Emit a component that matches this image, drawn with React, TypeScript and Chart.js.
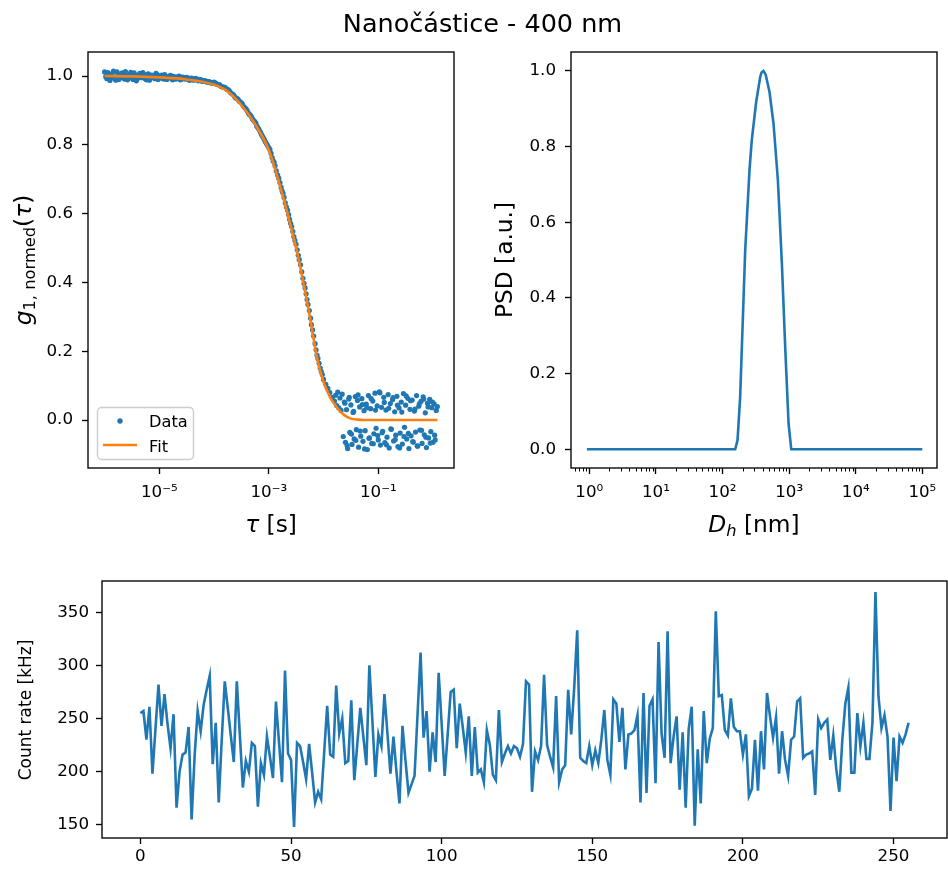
import React, { useEffect, useRef } from 'react';
import { Chart, registerables } from 'chart.js';
Chart.register(...registerables);

const W = 948;
const H = 870;
const FAM = '"DejaVu Sans", Verdana, sans-serif';
const BLUE = '#1f77b4';
const ORANGE = '#ff7f0e';
const TICK_PX = 16.7;
const LABEL_PX = 23.3;
const SUB_PX = 16.3;

Chart.defaults.font.family = FAM;
Chart.defaults.font.size = TICK_PX;
Chart.defaults.color = '#000';

// ---------- Title ----------
const TITLE = 'Nanočástice - 400 nm';

// ---------- DLS correlation data (tau in s, normalized g1) ----------
const dataTau = [
  1.0e-6, 1.1e-6, 1.2e-6, 1.3e-6, 1.45e-6, 1.6e-6, 1.75e-6, 1.9e-6, 2.1e-6, 2.3e-6, 2.5e-6, 2.75e-6, 3.0e-6, 3.3e-6, 3.6e-6, 4.0e-6, 4.4e-6, 4.8e-6, 5.2e-6, 5.8e-6, 6.3e-6, 7.0e-6, 7.6e-6, 8.3e-6, 9.1e-6,
  1.0e-5, 1.1e-5, 1.2e-5, 1.3e-5, 1.45e-5, 1.6e-5, 1.75e-5, 1.9e-5, 2.1e-5, 2.3e-5, 2.5e-5, 2.75e-5, 3.0e-5, 3.3e-5, 3.6e-5, 4.0e-5, 4.4e-5, 4.8e-5, 5.2e-5, 5.8e-5, 6.3e-5, 7.0e-5, 7.6e-5, 8.3e-5, 9.1e-5,
  1.0e-4, 1.1e-4, 1.2e-4, 1.3e-4, 1.45e-4, 1.6e-4, 1.75e-4, 1.9e-4, 2.1e-4, 2.3e-4, 2.5e-4, 2.75e-4, 3.0e-4, 3.3e-4, 3.6e-4, 4.0e-4, 4.4e-4, 4.8e-4, 5.2e-4, 5.8e-4, 6.3e-4, 7.0e-4, 7.6e-4, 8.3e-4, 9.1e-4,
  1.0e-3, 1.1e-3, 1.2e-3, 1.3e-3, 1.45e-3, 1.6e-3, 1.75e-3, 1.9e-3, 2.1e-3, 2.3e-3, 2.5e-3, 2.75e-3, 3.0e-3, 3.3e-3, 3.6e-3, 4.0e-3, 4.4e-3, 4.8e-3, 5.2e-3, 5.8e-3, 6.3e-3, 7.0e-3, 7.6e-3, 8.3e-3, 9.1e-3,
  1.0e-2, 1.1e-2, 1.2e-2, 1.3e-2, 1.45e-2,
  1.585e-2, 1.660e-2, 1.738e-2, 1.820e-2, 1.905e-2, 1.995e-2, 2.089e-2, 2.188e-2, 2.291e-2, 2.399e-2,
  2.512e-2, 2.630e-2, 2.754e-2, 2.884e-2, 3.020e-2, 3.162e-2, 3.311e-2, 3.467e-2, 3.631e-2, 3.802e-2,
  3.981e-2, 4.169e-2, 4.365e-2, 4.571e-2, 4.786e-2, 5.012e-2, 5.248e-2, 5.495e-2, 5.754e-2, 6.026e-2,
  6.310e-2, 6.607e-2, 6.918e-2, 7.244e-2, 7.586e-2, 7.943e-2, 8.318e-2, 8.710e-2, 9.120e-2, 9.550e-2,
  0.1000, 0.1047, 0.1096, 0.1148, 0.1202, 0.1259, 0.1318, 0.1380, 0.1445, 0.1514,
  0.1585, 0.1660, 0.1738, 0.1820, 0.1905, 0.1995, 0.2089, 0.2188, 0.2291, 0.2399,
  0.2512, 0.2630, 0.2754, 0.2884, 0.3020, 0.3162, 0.3311, 0.3467, 0.3631, 0.3802,
  0.3981, 0.4169, 0.4365, 0.4571, 0.4786, 0.5012, 0.5248, 0.5495, 0.5754, 0.6026,
  0.6310, 0.6607, 0.6918, 0.7244, 0.7586, 0.7943, 0.8318, 0.8710, 0.9120, 0.9550,
  1.000, 1.047, 1.096, 1.148, 1.202,
  // interleaved lag times
  1.05e-6, 1.15e-6, 1.25e-6, 1.37e-6, 1.52e-6, 1.68e-6, 1.82e-6, 2.0e-6, 2.2e-6, 2.4e-6, 2.62e-6, 2.87e-6, 3.15e-6, 3.45e-6, 3.8e-6, 4.2e-6, 4.6e-6, 5.0e-6, 5.5e-6, 6.0e-6, 6.6e-6, 7.3e-6, 7.9e-6, 8.7e-6, 9.5e-6,
  1.05e-5, 1.15e-5, 1.25e-5, 1.37e-5, 1.52e-5, 1.68e-5, 1.82e-5, 2.0e-5, 2.2e-5, 2.4e-5, 2.62e-5, 2.87e-5, 3.15e-5, 3.45e-5, 3.8e-5, 4.2e-5, 4.6e-5, 5.0e-5, 5.5e-5, 6.0e-5, 6.6e-5, 7.3e-5, 7.9e-5, 8.7e-5, 9.5e-5,
  1.05e-4, 1.15e-4, 1.25e-4, 1.37e-4, 1.52e-4, 1.68e-4, 1.82e-4, 2.0e-4, 2.2e-4, 2.4e-4, 2.62e-4, 2.87e-4, 3.15e-4, 3.45e-4, 3.8e-4, 4.2e-4, 4.6e-4, 5.0e-4, 5.5e-4, 6.0e-4, 6.6e-4, 7.3e-4, 7.9e-4, 8.7e-4, 9.5e-4,
  1.05e-3, 1.15e-3, 1.25e-3, 1.37e-3, 1.52e-3, 1.68e-3, 1.82e-3, 2.0e-3, 2.2e-3, 2.4e-3, 2.62e-3, 2.87e-3, 3.15e-3, 3.45e-3, 3.8e-3, 4.2e-3, 4.6e-3, 5.0e-3, 5.5e-3, 6.0e-3, 6.6e-3, 7.3e-3, 7.9e-3, 8.7e-3, 9.5e-3,
  0.02455, 0.02692, 0.02951, 0.03236, 0.03548, 0.03890, 0.04266, 0.04677, 0.05129, 0.05623,
  0.06166, 0.06761, 0.07413, 0.08128, 0.08913, 0.09772, 0.1072, 0.1175, 0.1288, 0.1413,
  0.1549, 0.1698, 0.1862, 0.2042, 0.2239, 0.2455, 0.2692, 0.2951, 0.3236, 0.3548,
  0.3890, 0.4266, 0.4677, 0.5129, 0.5623, 0.6166, 0.6761, 0.7413, 0.8128, 0.8913,
  0.9772, 1.072,
];
const dataG = [
  1.012, 0.992, 1.005, 0.996, 1.014, 0.988, 1.003, 0.994, 1.009, 0.991, 1.001, 0.997, 1.011, 0.990, 1.004, 0.993, 1.008, 0.995, 1.002, 0.989, 1.006, 0.996, 1.000, 0.992, 1.004,
  0.995, 1.003, 0.991, 0.999, 0.994, 1.002, 0.989, 0.997, 0.993, 1.000, 0.990, 0.996, 0.991, 0.995, 0.988, 0.993, 0.990, 0.992, 0.986, 0.989, 0.985, 0.986, 0.982, 0.983, 0.981,
  0.982, 0.977, 0.976, 0.972, 0.968, 0.966, 0.961, 0.957, 0.949, 0.944, 0.936, 0.932, 0.925, 0.918, 0.909, 0.900, 0.889, 0.882, 0.872, 0.863, 0.850, 0.838, 0.826, 0.815, 0.803,
  0.792, 0.775, 0.754, 0.739, 0.712, 0.690, 0.666, 0.647, 0.619, 0.597, 0.572, 0.548, 0.522, 0.495, 0.466, 0.431, 0.397, 0.367, 0.336, 0.296, 0.262, 0.222, 0.189, 0.165, 0.141,
  0.118, 0.104, 0.092, 0.080, 0.066,
  0.055, 0.072, 0.042, 0.081, 0.035, 0.064, 0.028, 0.075, -0.048, 0.052,
  -0.065, 0.030, -0.083, 0.061, -0.036, 0.044, -0.071, 0.022, -0.055, 0.068,
  -0.028, 0.057, -0.079, 0.038, -0.047, 0.062, -0.062, 0.027, -0.031, 0.046,
  -0.086, 0.071, -0.052, 0.033, -0.068, 0.055, -0.040, 0.078, -0.024, 0.041,
  -0.058, 0.082, -0.073, 0.037, -0.033, 0.066, -0.066, 0.029, -0.050, 0.074,
  -0.081, 0.048, -0.027, 0.059, -0.061, 0.024, -0.044, 0.069, -0.077, 0.035,
  -0.038, 0.052, -0.070, 0.077, -0.021, 0.043, -0.055, 0.063, -0.083, 0.031,
  -0.046, 0.058, -0.064, 0.026, -0.035, 0.071, -0.076, 0.040, -0.029, 0.054,
  -0.068, 0.067, -0.043, 0.021, -0.080, 0.049, -0.052, 0.060, -0.034, 0.036,
  -0.065, 0.047, -0.058, 0.028, 0.039,
  // interleaved values
  0.998, 1.010, 0.987, 1.006, 0.993, 1.012, 0.990, 1.007, 0.996, 1.013, 0.989, 1.004, 0.994, 1.009, 0.986, 1.002, 0.997, 1.010, 0.992, 1.005, 0.988, 1.003, 0.995, 1.008, 0.990,
  1.001, 0.993, 1.004, 0.990, 1.000, 0.992, 0.999, 0.991, 0.998, 0.989, 0.997, 0.992, 0.996, 0.989, 0.994, 0.988, 0.993, 0.987, 0.990, 0.985, 0.987, 0.983, 0.984, 0.980, 0.979,
  0.980, 0.975, 0.975, 0.969, 0.968, 0.962, 0.960, 0.952, 0.947, 0.939, 0.935, 0.927, 0.922, 0.912, 0.905, 0.893, 0.886, 0.876, 0.868, 0.855, 0.845, 0.831, 0.821, 0.808, 0.798,
  0.786, 0.763, 0.749, 0.724, 0.703, 0.676, 0.659, 0.631, 0.610, 0.583, 0.562, 0.533, 0.511, 0.479, 0.451, 0.412, 0.384, 0.350, 0.318, 0.277, 0.244, 0.204, 0.179, 0.151, 0.132,
  0.049, -0.074, 0.066, -0.041, 0.025, -0.059, 0.073, -0.032, 0.045, -0.084,
  0.036, -0.053, 0.062, -0.069, 0.029, -0.045, 0.079, -0.037, 0.051, -0.072,
  0.034, -0.026, 0.065, -0.057, 0.043, -0.081, 0.023, -0.048, 0.070, -0.039,
  0.056, -0.063, 0.032, -0.075, 0.047, -0.030, 0.061, -0.050, 0.038, -0.067,
  0.052, -0.044,
];

// ---------- Fit curve ----------
const fitTau = [1e-6, 3.16e-6, 1e-5, 3.16e-5, 1e-4, 1.78e-4, 3.16e-4, 5.62e-4, 1e-3, 1.33e-3, 1.78e-3, 2.37e-3, 3.16e-3, 4.22e-3, 5.62e-3, 7.5e-3, 1e-2, 1.33e-2, 1.78e-2, 2.37e-2, 3.16e-2, 4.22e-2, 5.62e-2, 1.2];
const fitG = [1.0, 0.999, 0.996, 0.99, 0.975, 0.955, 0.915, 0.86, 0.785, 0.725, 0.655, 0.58, 0.5, 0.405, 0.3, 0.185, 0.11, 0.065, 0.035, 0.015, 0.004, 0.001, 0.0, 0.0];

// ---------- Particle size distribution ----------
const psdD = [0.92, 155, 168, 184, 219, 254, 275, 320, 368, 385, 412, 445, 507, 583, 678, 778, 873, 980, 1076, 100000];
const psdV = [0, 0, 0.024, 0.138, 0.526, 0.738, 0.817, 0.918, 0.984, 0.996, 1.0, 0.99, 0.945, 0.861, 0.711, 0.492, 0.27, 0.069, 0, 0];

// ---------- Count rate (kHz) ----------
const countRate = [
  255, 257, 230, 261, 198, 240, 282, 243, 273, 245, 222, 254, 166, 200, 216, 218, 242, 155, 215, 257,
  238, 263, 277, 290, 207, 246, 171, 230, 285, 260, 234, 209, 285, 235, 185, 210, 200, 227, 224, 167,
  208, 197, 233, 214, 194, 266, 228, 190, 295, 217, 211, 148, 227, 224, 209, 193, 226, 199, 171, 181,
  174, 218, 262, 216, 214, 281, 236, 250, 208, 210, 267, 192, 226, 260, 233, 206, 300, 248, 195, 235,
  224, 273, 236, 198, 233, 200, 170, 243, 210, 180, 188, 196, 254, 312, 232, 257, 200, 237, 209, 293,
  245, 196, 235, 275, 277, 222, 264, 242, 218, 252, 196, 242, 199, 202, 190, 239, 225, 197, 192, 258,
  209, 217, 224, 217, 224, 222, 214, 226, 285, 282, 181, 219, 211, 224, 291, 225, 214, 204, 271, 190,
  202, 206, 277, 235, 279, 333, 213, 210, 208, 224, 206, 220, 208, 230, 258, 211, 197, 268, 264, 228,
  260, 202, 235, 236, 239, 253, 171, 274, 180, 262, 268, 189, 322, 236, 213, 332, 208, 233, 252, 183,
  237, 166, 240, 261, 149, 221, 170, 257, 208, 231, 241, 351, 271, 272, 239, 234, 269, 242, 238, 238,
  216, 235, 177, 184, 230, 182, 238, 202, 274, 252, 232, 251, 198, 238, 211, 196, 230, 233, 266, 269,
  213, 216, 217, 219, 178, 249, 241, 246, 249, 211, 234, 202, 181, 230, 264, 279, 199, 199, 255, 224,
  246, 212, 212, 246, 369, 271, 241, 253, 233, 163, 232, 191, 233, 227, 235, 246,
];

// ---------- Tick values ----------
const tauTicks = [1e-5, 1e-3, 1e-1];
const gTicks = [0, 0.2, 0.4, 0.6, 0.8, 1.0];
const dTicks = [1, 10, 100, 1000, 10000, 100000];
const dMinorTicks = [0.6, 0.7, 0.8, 0.9, 2, 3, 4, 5, 6, 7, 8, 9, 20, 30, 40, 50, 60, 70, 80, 90, 200, 300, 400, 500, 600, 700, 800, 900, 2000, 3000, 4000, 5000, 6000, 7000, 8000, 9000, 20000, 30000, 40000, 50000, 60000, 70000, 80000, 90000];
const psdTicks = [0, 0.2, 0.4, 0.6, 0.8, 1.0];
const idxTicks = [0, 50, 100, 150, 200, 250];
const rateTicks = [150, 200, 250, 300, 350];

const SUP: Record<string, string> = { '-': '⁻', '0': '⁰', '1': '¹', '2': '²', '3': '³', '4': '⁴', '5': '⁵', '6': '⁶', '7': '⁷', '8': '⁸', '9': '⁹' };
function logLabel(v: number) {
  const e = Math.round(Math.log10(v));
  return '10' + String(e).split('').map((c) => SUP[c]).join('');
}

type Seg = { t: string; size: number; italic?: boolean; dy?: number };
function segFont(s: Seg) {
  return `${s.italic ? 'italic ' : ''}${s.size}px ${FAM}`;
}
function drawRich(ctx: CanvasRenderingContext2D, segs: Seg[], x: number, y: number, rotate = false) {
  ctx.save();
  const widths = segs.map((s) => {
    ctx.font = segFont(s);
    return ctx.measureText(s.t).width;
  });
  const total = widths.reduce((a, b) => a + b, 0);
  ctx.translate(x, y);
  if (rotate) ctx.rotate(-Math.PI / 2);
  ctx.textBaseline = 'alphabetic';
  ctx.textAlign = 'left';
  ctx.fillStyle = '#000';
  let cx = -total / 2;
  segs.forEach((s, i) => {
    ctx.font = segFont(s);
    ctx.fillText(s.t, cx, s.dy || 0);
    cx += widths[i];
  });
  ctx.restore();
}

type Box = { l: number; t: number; r: number; b: number };
const TICK_LEN = 6;
const gridOpt = { display: true, drawOnChartArea: false, drawTicks: true, tickLength: TICK_LEN, tickWidth: 1.35, tickColor: '#000', color: '#000' };
const tickFont = { family: FAM, size: TICK_PX, style: 'normal', weight: 'normal', lineHeight: 1.2 };

function xScale(box: Box, xh: number, extra: any) {
  const { ticks, ...rest } = extra;
  return {
    bounds: 'data',
    grid: gridOpt,
    border: { display: false },
    afterFit: (s: any) => { s.height = xh; },
    ...rest,
    ticks: { font: tickFont, color: '#000', autoSkip: false, maxRotation: 0, minRotation: 0, ...(ticks || {}) },
  };
}
function yScale(box: Box, extra: any) {
  const { ticks, ...rest } = extra;
  return {
    bounds: 'data',
    grid: gridOpt,
    border: { display: false },
    afterFit: (s: any) => { s.width = box.l; },
    ...rest,
    ticks: { font: tickFont, color: '#000', autoSkip: false, ...(ticks || {}) },
  };
}
function layoutFor(box: Box, xh: number) {
  return { autoPadding: false, padding: { left: 0, top: box.t, right: W - box.r, bottom: H - box.b - xh } };
}
function frameDraw(chart: any) {
  const ctx = chart.ctx as CanvasRenderingContext2D;
  const a = chart.chartArea;
  ctx.save();
  ctx.strokeStyle = '#000';
  ctx.lineWidth = 1.35;
  ctx.strokeRect(a.left, a.top, a.right - a.left, a.bottom - a.top);
  ctx.restore();
}

const BOX1: Box = { l: 88, t: 52, r: 454, b: 468 };
const BOX2: Box = { l: 571, t: 52, r: 937, b: 468 };
const BOX3: Box = { l: 102, t: 581, r: 947, b: 838 };
const XH = 40;
const LW = 2.6;

export default function App() {
  const c1 = useRef<HTMLCanvasElement>(null);
  const c2 = useRef<HTMLCanvasElement>(null);
  const c3 = useRef<HTMLCanvasElement>(null);

  useEffect(() => {
    const common = { responsive: false, animation: false as const, events: [] as any[], font: { family: FAM, size: TICK_PX }, plugins: { legend: { display: false }, tooltip: { enabled: false } } };

    // ---- Chart 1: correlation function ----
    const ch1 = new Chart(c1.current!, {
      type: 'scatter',
      data: {
        datasets: [
          {
            label: 'Fit',
            data: fitTau.map((x, i) => ({ x, y: fitG[i] })),
            showLine: true,
            borderColor: ORANGE,
            borderWidth: LW,
            pointRadius: 0,
            cubicInterpolationMode: 'monotone',
            order: 0,
          } as any,
          {
            label: 'Data',
            data: dataTau.map((x, i) => ({ x, y: dataG[i] })),
            showLine: false,
            backgroundColor: BLUE,
            borderWidth: 0,
            pointRadius: 2.6,
            order: 1,
          },
        ],
      },
      options: {
        ...common,
        layout: layoutFor(BOX1, XH),
        scales: {
          x: xScale(BOX1, XH, {
            type: 'logarithmic',
            min: 4.97e-7,
            max: 2.42,
            afterBuildTicks: (s: any) => { s.ticks = tauTicks.map((v) => ({ value: v })); },
            ticks: { callback: (v: any) => logLabel(Number(v)), padding: 9 },
          }),
          y: yScale(BOX1, {
            type: 'linear',
            min: -0.1395,
            max: 1.0698,
            afterBuildTicks: (s: any) => { s.ticks = gTicks.map((v) => ({ value: v })); },
            ticks: { callback: (v: any) => Number(v).toFixed(1), padding: 9 },
          }),
        },
      } as any,
      plugins: [
        {
          id: 'deco1',
          afterDraw(chart: any) {
            frameDraw(chart);
            const ctx = chart.ctx as CanvasRenderingContext2D;
            // suptitle
            ctx.save();
            ctx.font = `25.5px ${FAM}`;
            ctx.fillStyle = '#000';
            ctx.textAlign = 'center';
            ctx.textBaseline = 'alphabetic';
            ctx.fillText(TITLE, 482.5, 32);
            ctx.restore();
            // axis labels
            drawRich(ctx, [{ t: 'τ', size: LABEL_PX, italic: true }, { t: ' [s]', size: LABEL_PX }], 271, 532);
            drawRich(ctx, [
              { t: 'g', size: LABEL_PX, italic: true },
              { t: '1, normed', size: SUB_PX, dy: 4 },
              { t: '(', size: LABEL_PX },
              { t: 'τ', size: LABEL_PX, italic: true },
              { t: ')', size: LABEL_PX },
            ], 31, 260, true);
            // legend
            ctx.save();
            const lx = 97.5, ly = 407.5, lw = 96, lh = 52, r = 4;
            ctx.beginPath();
            ctx.moveTo(lx + r, ly);
            ctx.lineTo(lx + lw - r, ly);
            ctx.arcTo(lx + lw, ly, lx + lw, ly + r, r);
            ctx.lineTo(lx + lw, ly + lh - r);
            ctx.arcTo(lx + lw, ly + lh, lx + lw - r, ly + lh, r);
            ctx.lineTo(lx + r, ly + lh);
            ctx.arcTo(lx, ly + lh, lx, ly + lh - r, r);
            ctx.lineTo(lx, ly + r);
            ctx.arcTo(lx, ly, lx + r, ly, r);
            ctx.closePath();
            ctx.fillStyle = 'rgba(255,255,255,0.8)';
            ctx.fill();
            ctx.strokeStyle = '#cccccc';
            ctx.lineWidth = 1.4;
            ctx.stroke();
            ctx.fillStyle = BLUE;
            ctx.beginPath();
            ctx.arc(120, 421, 2.7, 0, Math.PI * 2);
            ctx.fill();
            ctx.strokeStyle = ORANGE;
            ctx.lineWidth = LW;
            ctx.beginPath();
            ctx.moveTo(103, 445);
            ctx.lineTo(137, 445);
            ctx.stroke();
            ctx.fillStyle = '#000';
            ctx.font = `16.2px ${FAM}`;
            ctx.textAlign = 'left';
            ctx.textBaseline = 'alphabetic';
            ctx.fillText('Data', 149, 427);
            ctx.fillText('Fit', 149, 451.5);
            ctx.restore();
          },
        },
      ],
    });

    // ---- Chart 2: PSD ----
    const ch2 = new Chart(c2.current!, {
      type: 'scatter',
      data: {
        datasets: [
          {
            label: 'PSD',
            data: psdD.map((x, i) => ({ x, y: psdV[i] })),
            showLine: true,
            borderColor: BLUE,
            borderWidth: LW,
            pointRadius: 0,
            tension: 0,
          },
        ],
      },
      options: {
        ...common,
        layout: layoutFor(BOX2, XH),
        scales: {
          x: xScale(BOX2, XH, {
            type: 'logarithmic',
            min: 0.531,
            max: 166000,
            afterBuildTicks: (s: any) => { s.ticks = dTicks.map((v) => ({ value: v })); },
            ticks: { callback: (v: any) => logLabel(Number(v)), padding: 9 },
          }),
          y: yScale(BOX2, {
            type: 'linear',
            min: -0.0494,
            max: 1.05,
            afterBuildTicks: (s: any) => { s.ticks = psdTicks.map((v) => ({ value: v })); },
            ticks: { callback: (v: any) => Number(v).toFixed(1), padding: 9 },
          }),
        },
      } as any,
      plugins: [
        {
          id: 'deco2',
          afterDraw(chart: any) {
            frameDraw(chart);
            const ctx = chart.ctx as CanvasRenderingContext2D;
            const xs = chart.scales.x;
            const a = chart.chartArea;
            ctx.save();
            ctx.strokeStyle = '#000';
            ctx.lineWidth = 1.0;
            dMinorTicks.forEach((v) => {
              const px = Math.round(xs.getPixelForValue(v)) + 0.5;
              ctx.beginPath();
              ctx.moveTo(px, a.bottom);
              ctx.lineTo(px, a.bottom + 3.5);
              ctx.stroke();
            });
            ctx.restore();
            drawRich(ctx, [
              { t: 'D', size: LABEL_PX, italic: true },
              { t: 'h', size: SUB_PX, italic: true, dy: 4 },
              { t: ' [nm]', size: LABEL_PX },
            ], 754, 532);
            drawRich(ctx, [{ t: 'PSD [a.u.]', size: LABEL_PX }], 512, 260, true);
          },
        },
      ],
    });

    // ---- Chart 3: count rate ----
    const ch3 = new Chart(c3.current!, {
      type: 'line',
      data: {
        labels: countRate.map((_, i) => i),
        datasets: [
          {
            label: 'Count rate',
            data: countRate.map((y, i) => ({ x: i, y })),
            borderColor: BLUE,
            borderWidth: LW,
            pointRadius: 0,
            tension: 0,
            fill: false,
          },
        ],
      },
      options: {
        ...common,
        layout: layoutFor(BOX3, XH),
        scales: {
          x: xScale(BOX3, XH, {
            type: 'linear',
            min: -12.75,
            max: 267.75,
            afterBuildTicks: (s: any) => { s.ticks = idxTicks.map((v) => ({ value: v })); },
            ticks: { callback: (v: any) => String(v), padding: 2.5 },
          }),
          y: yScale(BOX3, {
            type: 'linear',
            min: 137.5,
            max: 379.4,
            afterBuildTicks: (s: any) => { s.ticks = rateTicks.map((v) => ({ value: v })); },
            ticks: { callback: (v: any) => String(v), padding: 7 },
          }),
        },
      } as any,
      plugins: [
        {
          id: 'deco3',
          afterDraw(chart: any) {
            frameDraw(chart);
            const ctx = chart.ctx as CanvasRenderingContext2D;
            drawRich(ctx, [{ t: 'Count rate [kHz]', size: 17 }], 31, 710, true);
          },
        },
      ],
    });

    return () => {
      ch1.destroy();
      ch2.destroy();
      ch3.destroy();
    };
  }, []);

  const cs: React.CSSProperties = { position: 'absolute', left: 0, top: 0, width: W, height: H };
  return (
    <div style={{ position: 'absolute', left: 0, top: 0, width: W, height: H, background: '#fff', overflow: 'hidden' }}>
      <canvas ref={c1} width={W} height={H} style={cs} />
      <canvas ref={c2} width={W} height={H} style={cs} />
      <canvas ref={c3} width={W} height={H} style={cs} />
    </div>
  );
}
